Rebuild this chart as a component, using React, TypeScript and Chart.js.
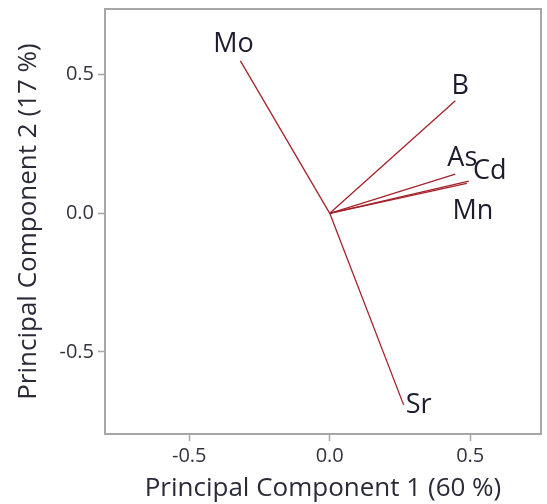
import React, { useEffect, useRef } from "react";
import { Chart, registerables } from "chart.js";

Chart.register(...registerables);

// Loadings (PC1, PC2) for each variable
const variables = ["Mo", "B", "As", "Cd", "Mn", "Sr"];
const pc1 = [-0.318, 0.447, 0.447, 0.495, 0.488, 0.263];
const pc2 = [0.55, 0.406, 0.141, 0.116, 0.108, -0.691];

// Tick values and labels
const xTicks = [-0.5, 0, 0.5];
const xTickLabels = ["-0.5", "0.0", "0.5"];
const yTicks = [-0.5, 0, 0.5];
const yTickLabels = ["-0.5", "0.0", "0.5"];

// Label placement offsets (pixels) relative to arrow tips
const labelDx = [-7, 5, 7, 21, 6, 15];
const labelDy = [-17, -14, -16, -10, 28, 0];

const FONT = "'Open Sans', 'Noto Sans', sans-serif";
const LINE_COLOR = "#a3222a";

export default function App() {
  const ref = useRef<HTMLCanvasElement | null>(null);

  useEffect(() => {
    if (!ref.current) return;

    const datasets = variables.map((name, i) => ({
      label: name,
      data: [
        { x: 0, y: 0 },
        { x: pc1[i], y: pc2[i] },
      ],
      showLine: true,
      borderColor: LINE_COLOR,
      borderWidth: 1.3,
      pointRadius: 0,
      fill: false,
    }));

    const boxAndLabels = {
      id: "boxAndLabels",
      afterDatasetsDraw(chart: any) {
        const { ctx, chartArea } = chart;
        const xs = chart.scales.x;
        const ys = chart.scales.y;
        ctx.save();
        ctx.strokeStyle = "#a6a6a6";
        ctx.lineWidth = 2;
        ctx.strokeRect(
          chartArea.left,
          chartArea.top,
          chartArea.right - chartArea.left,
          chartArea.bottom - chartArea.top
        );
        ctx.fillStyle = "#1c1c2e";
        ctx.font = `27px ${FONT}`;
        ctx.textAlign = "center";
        ctx.textBaseline = "middle";
        variables.forEach((name, i) => {
          const px = xs.getPixelForValue(pc1[i]) + labelDx[i];
          const py = ys.getPixelForValue(pc2[i]) + labelDy[i];
          ctx.fillText(name, px, py);
        });
        ctx.restore();
      },
    };

    const chart = new Chart(ref.current, {
      type: "scatter",
      data: { datasets },
      options: {
        animation: false,
        responsive: false,
        layout: { padding: { left: 0, top: 9, right: 6, bottom: 0 } },
        plugins: {
          legend: { display: false },
          tooltip: { enabled: false },
        },
        scales: {
          x: {
            type: "linear",
            min: -0.8,
            max: 0.752,
            afterFit(scale: any) {
              scale.height = 70;
              scale.paddingLeft = 0;
              scale.paddingRight = 0;
            },
            afterBuildTicks(scale: any) {
              scale.ticks = xTicks.map((value) => ({ value }));
            },
            border: { display: false },
            grid: {
              drawOnChartArea: false,
              drawTicks: true,
              tickLength: 7,
              tickColor: "#a6a6a6",
              tickWidth: 1.5,
            },
            ticks: {
              padding: 3,
              color: "#33333f",
              font: { family: FONT, size: 20 },
              maxRotation: 0,
              callback: (_v: any, i: number) => xTickLabels[i],
            },
            title: {
              display: true,
              text: "Principal Component 1 (60 %)",
              color: "#2a2a38",
              font: { family: FONT, size: 26 },
              padding: { top: 0, bottom: 0 },
            },
          },
          y: {
            type: "linear",
            min: -0.796,
            max: 0.737,
            afterFit(scale: any) {
              scale.width = 105;
              scale.paddingTop = 0;
              scale.paddingBottom = 0;
            },
            afterBuildTicks(scale: any) {
              scale.ticks = yTicks.map((value) => ({ value }));
            },
            border: { display: false },
            grid: {
              drawOnChartArea: false,
              drawTicks: true,
              tickLength: 7,
              tickColor: "#a6a6a6",
              tickWidth: 1.5,
            },
            ticks: {
              padding: 4,
              color: "#33333f",
              font: { family: FONT, size: 20 },
              callback: (_v: any, i: number) => yTickLabels[i],
            },
            title: {
              display: true,
              text: "Principal Component 2 (17 %)",
              color: "#2a2a38",
              font: { family: FONT, size: 26 },
              padding: { top: 13, bottom: 0 },
            },
          },
        },
      },
      plugins: [boxAndLabels],
    });

    return () => chart.destroy();
  }, []);

  return (
    <div style={{ position: "fixed", left: 0, top: 0, width: 547, height: 504, background: "#fff" }}>
      <canvas ref={ref} width={547} height={504} />
    </div>
  );
}
